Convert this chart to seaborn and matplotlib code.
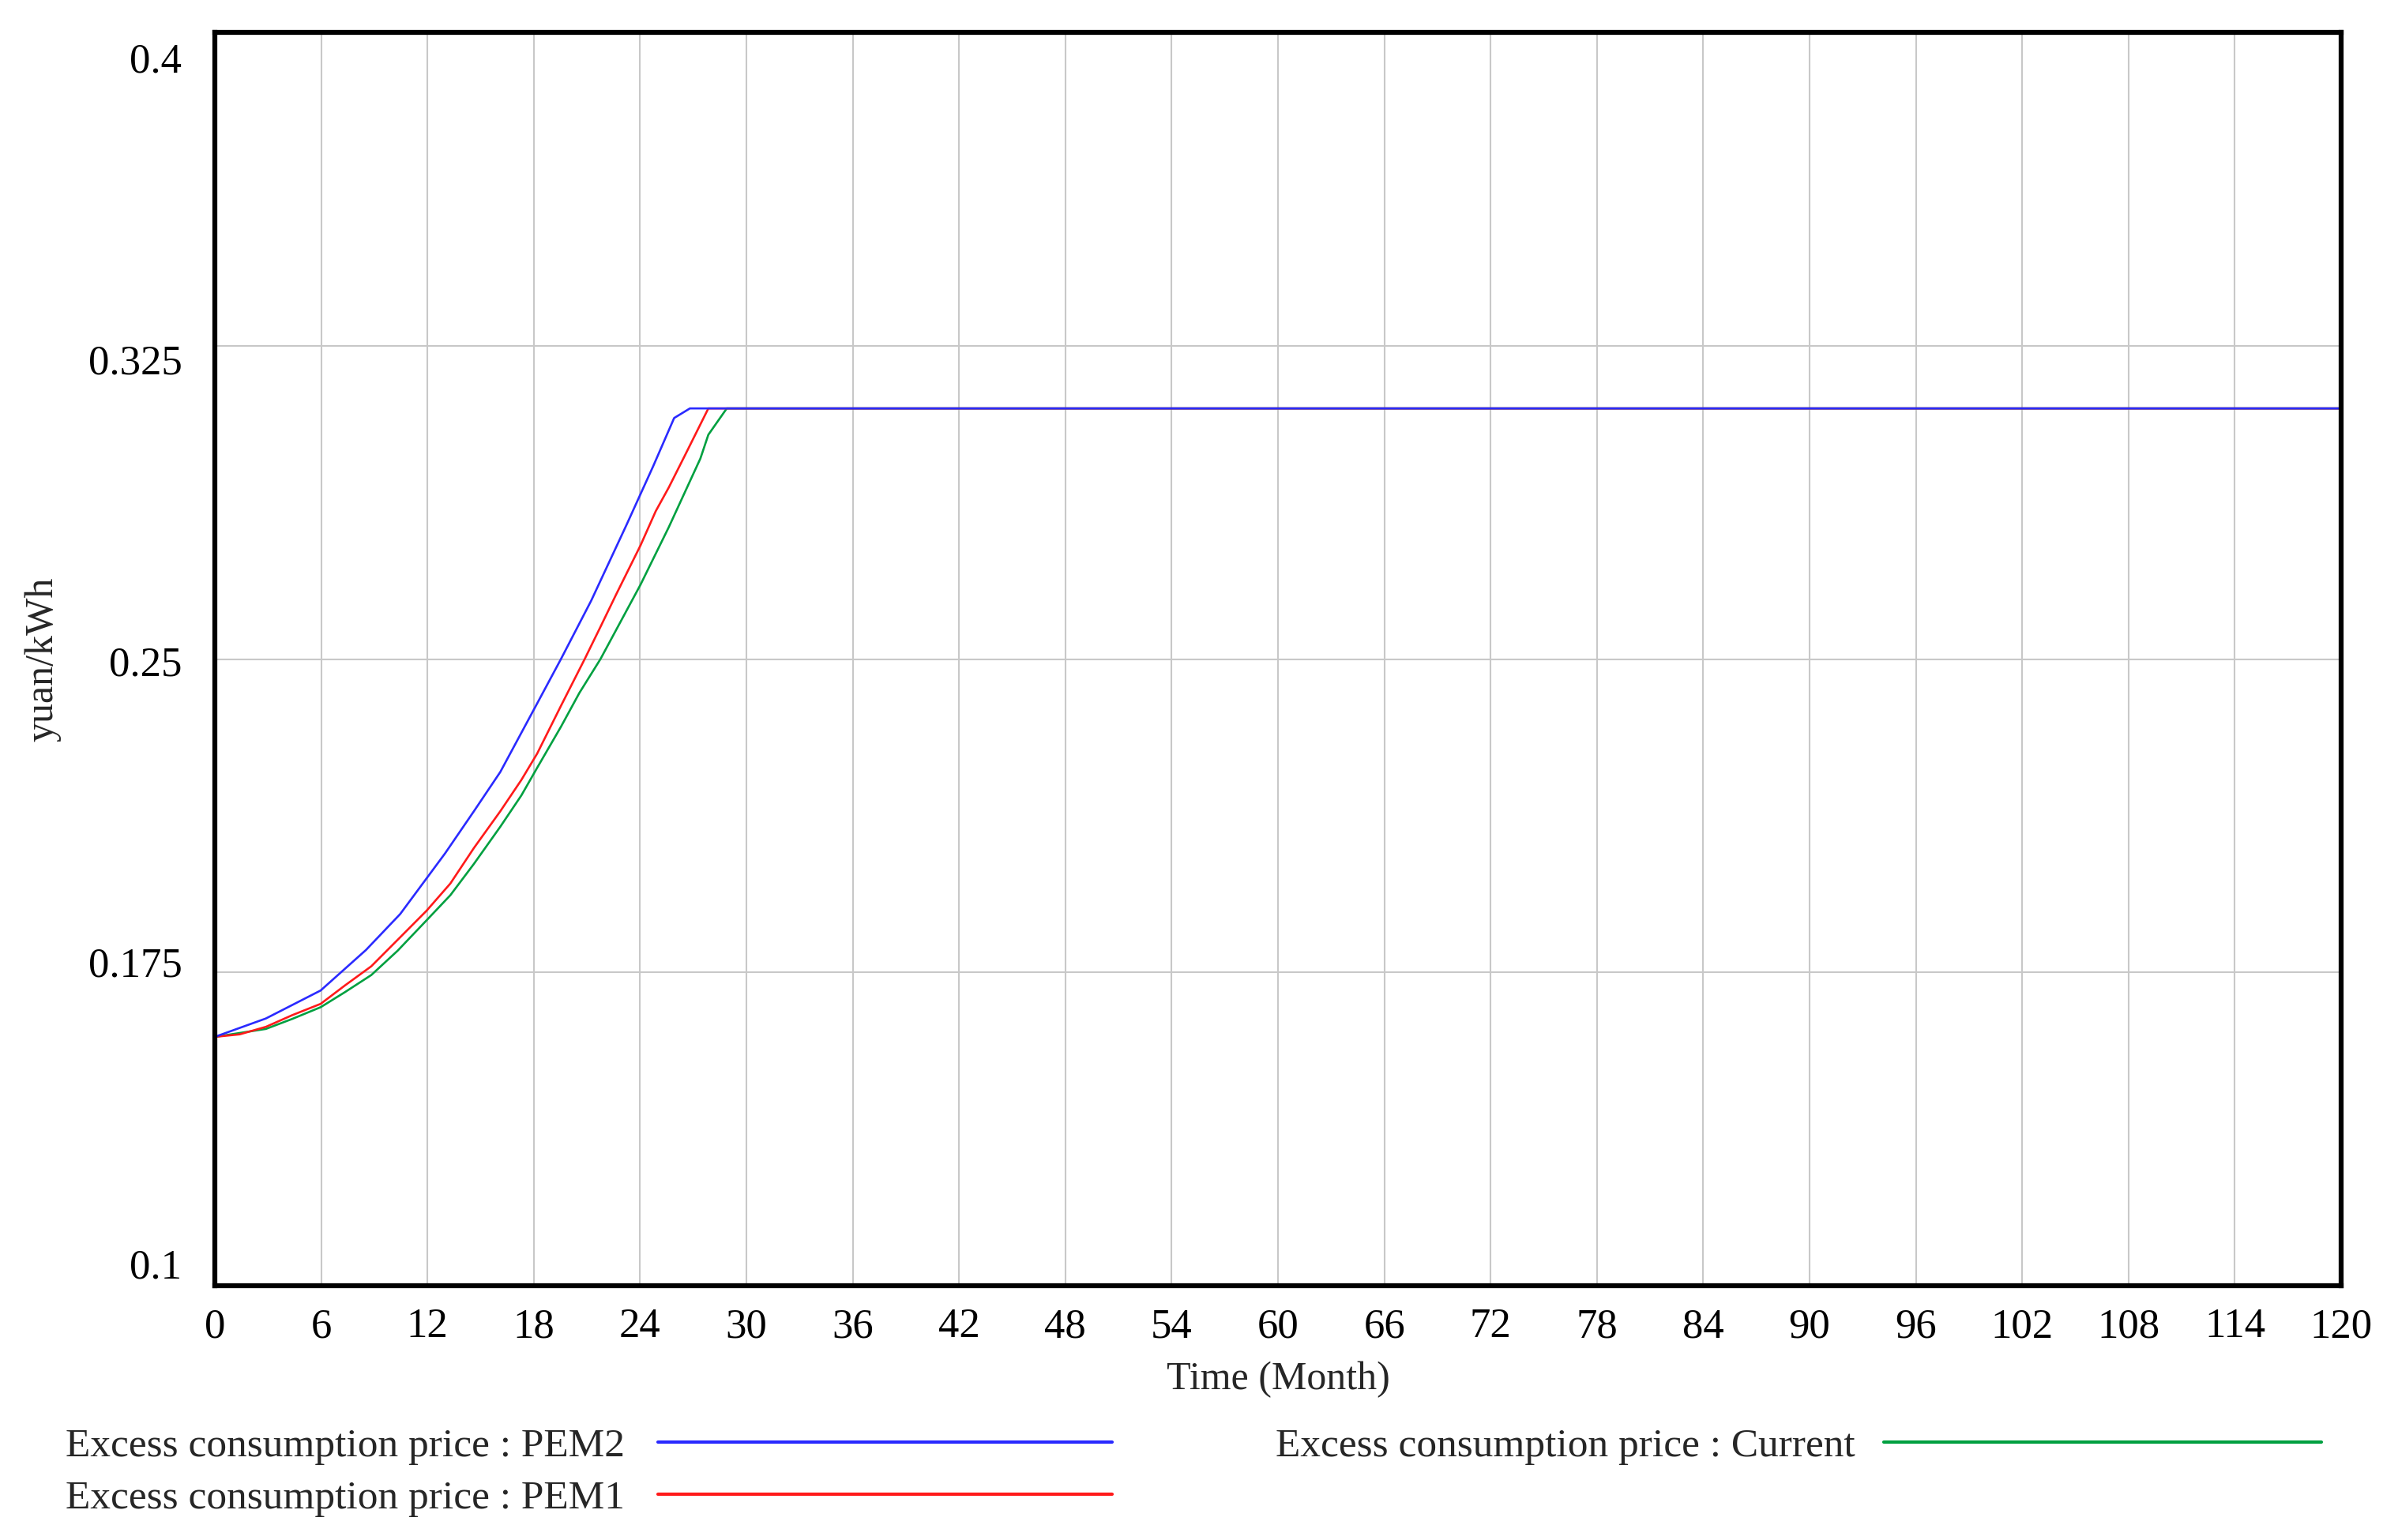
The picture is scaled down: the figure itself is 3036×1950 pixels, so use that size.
import numpy as np
import pandas as pd
import matplotlib.pyplot as plt
import matplotlib.transforms as mtransforms
from matplotlib.lines import Line2D
import seaborn as sns

# --- datos (Vensim) ---
meses_pem2 = [0, 2.88, 5.97, 8.53, 10.46, 12.99, 14.62, 16.11, 18.19, 19.53, 21.24,
              23.24, 24.73, 25.92, 26.81, 120]
precio_pem2 = [0.1596, 0.1640, 0.1707, 0.1804, 0.1890, 0.2035, 0.2136, 0.2230, 0.2394, 0.2500,
               0.2640, 0.2822, 0.2961, 0.3077, 0.3100, 0.3100]

meses_pem1 = [0, 1.40, 2.88, 4.37, 5.97, 7.34, 8.83, 10.31, 11.95, 13.29, 14.62, 16.11, 17.3,
              18.19, 19.53, 20.87, 21.76, 22.65, 24.02, 24.88, 25.62, 26.51, 27.11, 27.85, 120]
precio_pem1 = [0.1596, 0.1602, 0.1620, 0.1648, 0.1675, 0.1719, 0.1765, 0.1828, 0.1898, 0.1963,
               0.2048, 0.2136, 0.2211, 0.2274, 0.2388, 0.2500, 0.2577, 0.2655, 0.2772, 0.2854,
               0.2911, 0.2986, 0.3037, 0.3100, 0.3100]

meses_current = [0, 2.88, 4.37, 5.97, 7.34, 8.83, 10.31, 11.95, 13.29, 14.62, 16.11, 17.3, 18.19,
                 19.53, 20.57, 21.76, 24.02, 25.62, 26.51, 27.4, 27.85, 28.89, 120]
precio_current = [0.1596, 0.1615, 0.1639, 0.1667, 0.1703, 0.1744, 0.1802, 0.1875, 0.1935, 0.2010,
                  0.2099, 0.2174, 0.2240, 0.2338, 0.2419, 0.2500, 0.2678, 0.2816,
                  0.2898, 0.2980, 0.3037, 0.3100, 0.3100]

nombres = ['Excess consumption price : PEM2', 'Excess consumption price : PEM1',
           'Excess consumption price : Current']
colores = {nombres[0]: '#2a2aff', nombres[1]: '#ff1a1a', nombres[2]: '#00a040'}

x_ticks = list(range(0, 121, 6))
y_ticks = [0.1, 0.175, 0.25, 0.325, 0.4]
y_labels = ['0.1', '0.175', '0.25', '0.325', '0.4']

df = pd.concat([
    pd.DataFrame({'mes': meses_pem2, 'precio': precio_pem2, 'serie': nombres[0]}),
    pd.DataFrame({'mes': meses_pem1, 'precio': precio_pem1, 'serie': nombres[1]}),
    pd.DataFrame({'mes': meses_current, 'precio': precio_current, 'serie': nombres[2]}),
])

sns.set_style('white')
plt.rcParams['font.family'] = ['Liberation Serif', 'DejaVu Serif']

fig = plt.figure(figsize=(30.36, 19.5), dpi=100)
ax = fig.add_axes([0.0896, 0.165, 0.9763 - 0.0896, 0.979 - 0.165])

# dibujar current primero para que PEM2 quede encima en la meseta
for nombre in [nombres[2], nombres[1], nombres[0]]:
    sub = df[df['serie'] == nombre]
    sns.lineplot(data=sub, x='mes', y='precio', color=colores[nombre], linewidth=1.9,
                 estimator=None, sort=True, ax=ax, legend=False)

ax.set_xlim(0, 120)
ax.set_ylim(0.1, 0.4)
ax.set_xticks(x_ticks)
ax.set_yticks(y_ticks)
ax.set_yticklabels(y_labels)
ax.grid(True, color='#c8c8c8', linewidth=1.5)
ax.tick_params(axis='both', length=0, labelsize=38, colors='black')
ax.tick_params(axis='x', pad=20)
ax.tick_params(axis='y', pad=30)
for s in ax.spines.values():
    s.set_visible(True)
    s.set_color('black')
    s.set_linewidth(4.5)

# Vensim reparte las etiquetas del eje y un poco hacia dentro
for i, lab in enumerate(ax.get_yticklabels()):
    dy = (28 - 15 * i) / 100.0
    lab.set_transform(lab.get_transform() + mtransforms.ScaledTranslation(0, dy, fig.dpi_scale_trans))

ax.set_xlabel('Time (Month)', fontsize=36, labelpad=14)
ax.set_ylabel('yuan/kWh', fontsize=36, labelpad=25)

# --- leyenda al estilo Vensim: texto a la izquierda, linea a la derecha ---
filas = [(nombres[0], 0.0273, 0.2744, 0.4638, 0.0636),
         (nombres[1], 0.0273, 0.2744, 0.4638, 0.0297),
         (nombres[2], 0.5320, 0.7856, 0.9680, 0.0636)]
for nombre, xt, x0, x1, yy in filas:
    fig.text(xt, yy, nombre, fontsize=37, ha='left', va='center_baseline')
    fig.add_artist(Line2D([x0, x1], [yy, yy], color=colores[nombre], linewidth=3,
                          transform=fig.transFigure))

plt.savefig('out.png', dpi=100)
plt.close()
